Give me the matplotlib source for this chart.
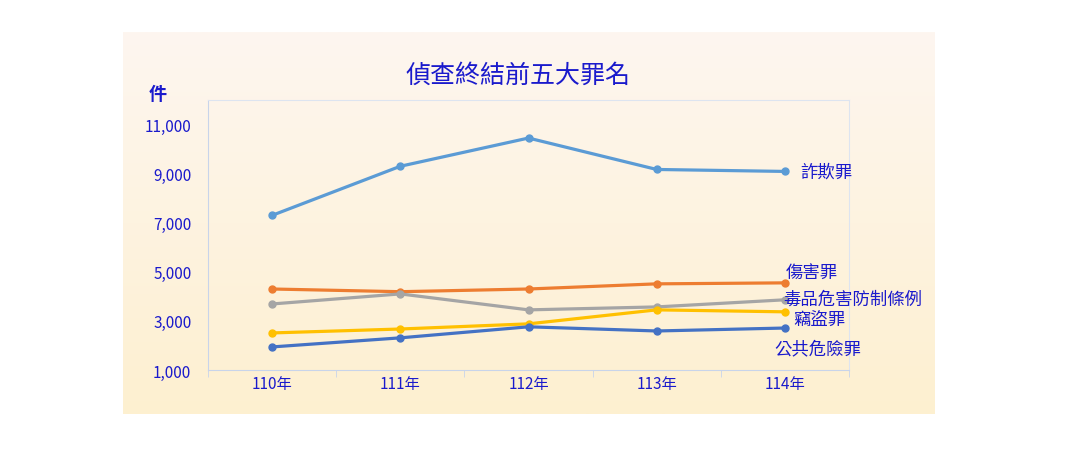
import numpy as np
import matplotlib.pyplot as plt
from matplotlib.colors import LinearSegmentedColormap

plt.rcParams['font.family'] = ['Noto Sans CJK TC', 'DejaVu Sans']

years = ["110年", "111年", "112年", "113年", "114年"]
fraud = [7300, 9300, 10450, 9170, 9090]
injury = [4300, 4190, 4300, 4510, 4550]
drugs = [3690, 4100, 3450, 3570, 3860]
theft = [2510, 2670, 2880, 3450, 3370]
public_danger = [1940, 2310, 2760, 2590, 2710]

series = [
    ("詐欺罪", fraud, "#5B9BD5"),
    ("傷害罪", injury, "#ED7D31"),
    ("毒品危害防制條例", drugs, "#A5A5A5"),
    ("竊盜罪", theft, "#FFC000"),
    ("公共危險罪", public_danger, "#4472C4"),
]
# label position: (x offset from last point, absolute y)
label_pos = {"詐欺罪": (0.12, 9090), "傷害罪": (0.21, 4960), "毒品危害防制條例": (0.53, 3900),
             "竊盜罪": (0.27, 3040), "公共危險罪": (0.26, 1900)}
text_col = "#1a1acc"

fig = plt.figure(figsize=(10.71, 4.64), dpi=100)

# gradient panel behind the chart
bg = fig.add_axes([123 / 1071, 1 - 415 / 464, (935 - 123) / 1071, (415 - 33) / 464])
cmap = LinearSegmentedColormap.from_list("bg", ["#FDF6F0", "#FEF0D0"])
bg.imshow(np.linspace(0, 1, 256).reshape(-1, 1), aspect="auto", cmap=cmap)
bg.axis("off")

ax = fig.add_axes([208 / 1071, 1 - 371 / 464, (849 - 208) / 1071, (371 - 101) / 464])
ax.patch.set_alpha(0)
x = np.arange(len(years))
for name, vals, col in series:
    ax.plot(x, vals, color=col, lw=2.3, marker="o", ms=5)
    dx, ly = label_pos[name]
    ax.text(x[-1] + dx, ly, name, color=text_col, fontsize=12.5,
            ha="left" if name == "詐欺罪" else "center", va="center", clip_on=False)

ax.set_xlim(-0.5, 4.5)
ax.set_ylim(1000, 12000)
ax.set_yticks(range(1000, 12000, 2000))
ax.set_yticklabels([f"{v:,}" for v in range(1000, 12000, 2000)])
ax.set_xticks(x)
ax.set_xticklabels(years)
ax.tick_params(colors=text_col, labelsize=11, length=0)
ax.tick_params(axis="y", pad=12)
for s in ["top", "right"]:
    ax.spines[s].set_color("#dde4f0")
ax.spines["left"].set_color("#c8d4ea")
ax.spines["bottom"].set_color("#c8d4ea")
ax.set_xticks(np.arange(-0.5, 5, 1), minor=True)
ax.tick_params(axis="x", which="minor", length=5, color="#c8d4ea")

fig.text(518 / 1071, 1 - 76 / 464, "偵查終結前五大罪名", color=text_col, fontsize=18,
         ha="center", va="center")
fig.text(158 / 1071, 1 - 94 / 464, "件", color=text_col, fontsize=13, ha="center",
         va="center", weight="bold")

fig.savefig("out.png", dpi=100)
